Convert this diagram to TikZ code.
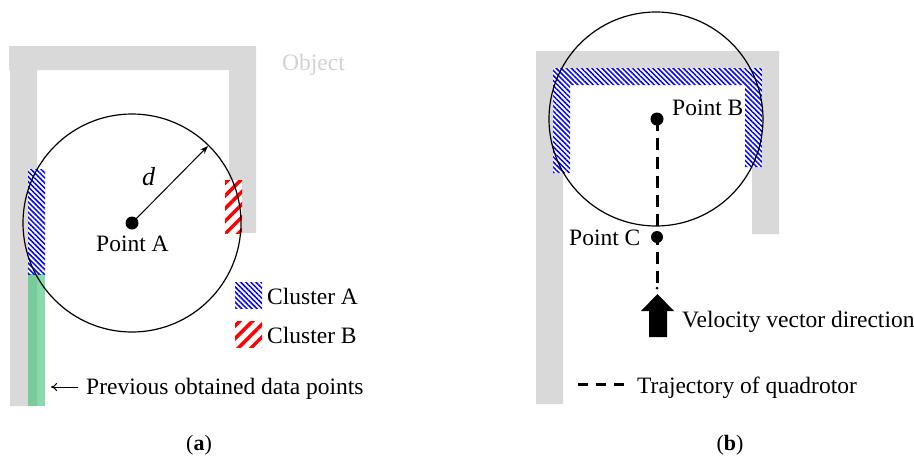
\documentclass[tikz,border=0pt]{standalone}
\usepackage{fontspec}
\setmainfont{Liberation Serif}
\usetikzlibrary{patterns.meta,arrows.meta}
\definecolor{objgray}{RGB}{217,217,217}
\definecolor{objtext}{RGB}{210,210,210}
\definecolor{prevgreen}{RGB}{60,195,120}
\tikzset{
  wall/.style={fill=objgray,draw=none},
  hatchA/.style={preaction={fill=white},pattern={Lines[angle=-45,distance=3.6pt,line width=1.5pt]},pattern color=blue},
  hatchB/.style={preaction={fill=white},pattern={Lines[angle=45,distance=9pt,line width=3.5pt]},pattern color=red},
  prev/.style={fill=prevgreen,fill opacity=0.62,draw=none},
  ring/.style={draw=black,line width=1.2pt},
  dot/.style={circle,fill=black,inner sep=0pt,minimum size=#1},
  lbl/.style={anchor=base west,inner sep=0pt,font=\fontsize{23.5}{27}\selectfont},
  traj/.style={line width=3pt,dash pattern=on 12pt off 7pt},
  sub/.style={anchor=base,inner sep=0pt,font=\fontsize{22}{26}\selectfont}
}
\begin{document}
\begin{tikzpicture}[x=1pt,y=-1pt]
\useasboundingbox (0,0) rectangle (914,459);
% ---------- panel (a) ----------
\fill[wall] (9,46) -- (256,46) -- (256,233) -- (229,233) -- (229,70) -- (37,70) -- (37,406) -- (10,406) -- (10,70) -- (9,70) -- cycle;
\fill[prev] (28,274) rectangle (45,406);
\path[hatchA] (28,169) rectangle (45,274);
\path[hatchB] (225,180) rectangle (242,233);
\draw[ring] (132,223) circle[radius=109];
\node[dot=13pt] (A) at (132,223) {};
\coordinate (dTip) at (208,146);
\draw[line width=1pt,-{Stealth[length=8pt,width=6pt]}] (A.center) -- (dTip);
\node[lbl,font=\fontsize{26}{30}\selectfont\itshape] (dlab) at (142,185) {d};
\node[lbl] (Alab) at (96,251) {Point A};
\node[lbl,text=objtext] (obj) at (282,70) {Object};
\path[hatchA] (235,282) rectangle (262,308);
\node[lbl] (cA) at (267,304) {Cluster A};
\path[hatchB] (235,321) rectangle (262,347);
\node[lbl] (cB) at (267,343) {Cluster B};
\node[lbl] (prevlab) at (86,394) {Previous obtained data points};
\coordinate (prevTip) at (51,387);
\coordinate (prevTail) at (78,387);
\draw[line width=1pt,-{To[length=6pt,width=8pt]}] (prevTail) -- (prevTip);
\node[sub] (suba) at (199,450) {(\textbf{a})};
% ---------- panel (b) ----------
\fill[wall] (536,51) -- (779,51) -- (779,234) -- (752,234) -- (752,78) -- (563,78) -- (563,404) -- (536,404) -- cycle;
\path[hatchA] (553,68) -- (762,68) -- (762,167) -- (745,167) -- (745,85) -- (570,85) -- (570,173) -- (553,173) -- cycle;
\draw[ring] (656,119) circle[radius=107];
\node[dot=13pt] (B) at (657,119) {};
\node[dot=12pt] (C) at (657,237) {};
\coordinate (trajEnd) at (657,288);
\draw[traj] (B.center) -- (trajEnd);
\fill[black] (trajEnd) circle[radius=1.5];
\node[lbl] (Blab) at (672,115) {Point B};
\node[lbl] (Clab) at (569,245) {Point C};
\fill[black] (657.5,294) -- (674,311) -- (667,311) -- (667,337) -- (649,337) -- (649,311) -- (641,311) -- cycle;
\node[lbl] (vlab) at (682,327) {Velocity vector direction};
\coordinate (legL) at (578,384);
\coordinate (legR) at (624,384);
\draw[line width=3pt,dash pattern=on 10pt off 8pt] (legL) -- (legR);
\node[lbl] (tlab) at (637,393) {Trajectory of quadrotor};
\node[sub] (subb) at (730,450) {(\textbf{b})};
\end{tikzpicture}
\end{document}
